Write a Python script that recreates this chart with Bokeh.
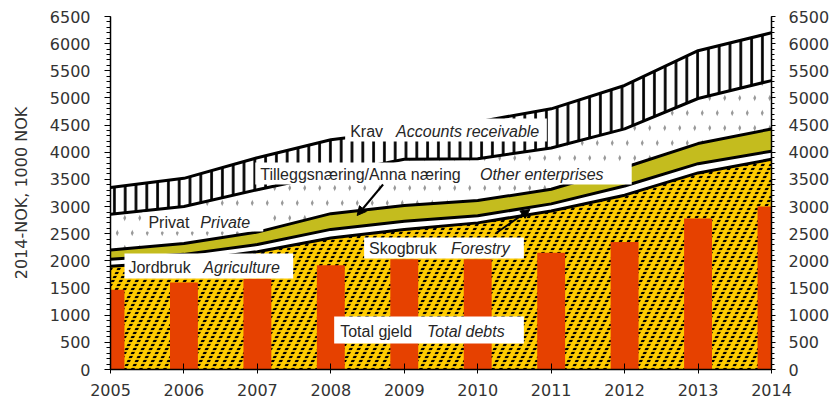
import numpy as np
from bokeh.plotting import figure
from bokeh.models import (Range1d, LinearAxis, SingleIntervalTicker, FixedTicker,
                          Label, BoxAnnotation, Arrow, NormalHead)
from bokeh.embed import file_html
from bokeh.resources import INLINE

# ---------------- data (1000 NOK, 2014-NOK) ----------------
years = [2005, 2006, 2007, 2008, 2009, 2010, 2011, 2012, 2013, 2014]
agriculture = [1900, 1990, 2170, 2420, 2580, 2700, 2920, 3210, 3620, 3870]
forestry = [130, 130, 130, 160, 150, 130, 130, 170, 170, 150]
other_enterprises = [170, 200, 230, 290, 290, 280, 270, 340, 370, 410]
private = [660, 680, 780, 730, 850, 770, 760, 710, 830, 890]
receivables = [490, 520, 590, 630, 530, 680, 720, 800, 880, 880]
total_debts = [1470, 1600, 1670, 1920, 2030, 2030, 2150, 2350, 2780, 3000]

y_tick_step = 500
y_max = 6500

# ---------------- figure ----------------
W, H = 832, 404
FL, FR, FT, FB = 110, 772, 16, 369   # frame edges in pixels

p = figure(width=W, height=H, output_backend="svg", toolbar_location=None,
           x_range=Range1d(years[0], years[-1]), y_range=Range1d(0, y_max),
           min_border_left=FL, min_border_right=W - FR,
           min_border_top=FT, min_border_bottom=H - FB)
p.outline_line_color = None
p.grid.visible = False
p.background_fill_color = "white"


def px_x(X):
    return years[0] + (X - FL) / (FR - FL) * (years[-1] - years[0])


def px_y(Y):
    return (FB - Y) / (FB - FT) * y_max


layers = [agriculture, forestry, other_enterprises, private, receivables]
cum = np.cumsum(np.array(layers, dtype=float), axis=0)
base = np.vstack([np.zeros(len(years)), cum[:-1]])

YELLOW = "#FFCC00"
styles = [
    # agriculture: yellow with dotted black diagonals (black "/" cut by yellow horizontal stripes)
    [dict(fill_color=YELLOW, hatch_pattern="/", hatch_color="black", hatch_weight=3.0, hatch_scale=16),
     dict(fill_alpha=0, hatch_pattern="-", hatch_color=YELLOW, hatch_weight=1.8, hatch_scale=4)],
    [dict(fill_color="white")],
    [dict(fill_color="#C4BC1E")],
    # private: white with small grey dots (grey "/" cut by wide white "\")
    [dict(fill_color="white", hatch_pattern="/", hatch_color="#9a9a9a", hatch_weight=2.7, hatch_scale=30),
     dict(fill_alpha=0, hatch_pattern="\\", hatch_color="white", hatch_weight=10.6, hatch_scale=30)],
    # receivables: vertical black lines
    [dict(fill_color="white", hatch_pattern="|", hatch_color="black", hatch_weight=2.7, hatch_scale=10.8)],
]
for i, sts in enumerate(styles):
    for st in sts:
        p.varea(x=years, y1=base[i], y2=cum[i], **st)

p.vbar(x=years, top=total_debts, width=0.38, fill_color="#E64100", line_color=None)

for i in range(len(layers)):
    p.line(years, cum[i], line_color="black", line_width=3)

# ---------------- axes ----------------
ly = p.yaxis[0]
ly.ticker = SingleIntervalTicker(interval=y_tick_step, num_minor_ticks=5)
ly.major_tick_out = 6
ly.major_tick_in = 0
ly.minor_tick_out = 4
ly.minor_tick_in = 0
ly.major_label_standoff = 14
ly.axis_label = "2014-NOK, 1000 NOK"
ly.axis_label_standoff = 16
ly.axis_label_text_font = "DejaVu Sans"
ly.axis_label_text_font_size = "16px"
ly.axis_label_text_font_style = "normal"
ly.axis_label_text_color = "#333333"

ry = LinearAxis(ticker=SingleIntervalTicker(interval=y_tick_step, num_minor_ticks=5))
ry.major_tick_out = 4
ry.major_tick_in = 0
ry.minor_tick_out = 3
ry.minor_tick_in = 0
ry.major_label_standoff = 13
p.add_layout(ry, "right")

bx = p.xaxis[0]
bx.ticker = FixedTicker(ticks=years)
bx.major_tick_in = 6
bx.major_tick_out = 4
bx.minor_tick_in = 0
bx.minor_tick_out = 0
bx.major_label_standoff = 10

for ax in [ly, ry, bx]:
    ax.axis_line_color = "black"
    ax.axis_line_width = 1.5
    ax.major_tick_line_color = "black"
    ax.minor_tick_line_color = "black"
    ax.major_label_text_font = "DejaVu Sans"
    ax.major_label_text_font_size = "16px"
    ax.major_label_text_color = "#333333"

# ---------------- labels ----------------
FONT = "Liberation Sans"
TXT = "#262626"

boxes = [
    (345, 547, 118, 141),   # Krav
    (255, 632, 162, 184),   # Tilleggsnæring
    (142, 263, 212, 231),   # Privat
    (124, 293, 253, 278),   # Jordbruk
    (364, 524, 237, 258),   # Skogbruk
    (334, 524, 316, 343),   # Total gjeld
]
for l, r, t, b in boxes:
    p.add_layout(BoxAnnotation(left=px_x(l), right=px_x(r), top=px_y(t), bottom=px_y(b),
                               fill_color="white", fill_alpha=1.0, line_color=None))

texts = [
    (350, 131, "Krav", "normal"), (396, 131, "Accounts receivable", "italic"),
    (260, 174, "Tilleggsnæring/Anna næring", "normal"), (480, 174, "Other  enterprises", "italic"),
    (148, 222, "Privat", "normal"), (200, 222, "Private", "italic"),
    (128, 267, "Jordbruk", "normal"), (203, 267, "Agriculture", "italic"),
    (369, 248, "Skogbruk", "normal"), (451, 248, "Forestry", "italic"),
    (340, 331, "Total gjeld", "normal"), (427, 331, "Total debts", "italic"),
]
for X, Y, t, style in texts:
    p.add_layout(Label(x=px_x(X), y=px_y(Y), text=t, text_font=FONT, text_font_size="16px",
                       text_font_style=style, text_color=TXT, text_baseline="middle",
                       text_align="left"))

arrows = [((383, 184), (357, 215)), ((497, 232), (530, 209))]
for (x0, y0), (x1, y1) in arrows:
    p.add_layout(Arrow(x_start=px_x(x0), y_start=px_y(y0), x_end=px_x(x1), y_end=px_y(y1),
                       line_color="black", line_width=2,
                       end=NormalHead(size=9, fill_color="black", line_color="black")))

open("out.html", "w").write(file_html(p, INLINE))
